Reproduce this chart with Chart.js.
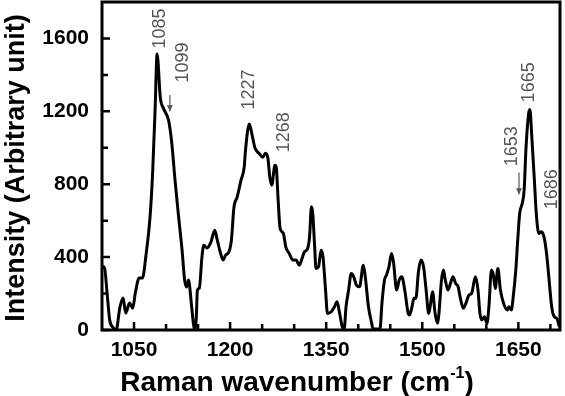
<!DOCTYPE html>
<html>
<head>
<meta charset="utf-8">
<script src="https://cdn.jsdelivr.net/npm/chart.js@4.4.0/dist/chart.umd.min.js"></script>
<style>
  body { margin: 0; background: #fff; }
  #wrap { width: 565px; height: 396px; }
</style>
</head>
<body>
<div id="wrap"><canvas id="raman" width="565" height="396"></canvas></div>
<script>
// Raman spectrum
const wavenumber = [
  1000, 1004, 1008, 1012, 1017, 1022, 1028, 1033, 1037, 1043, 1048, 1052, 1058, 1063, 1069,
  1075, 1079, 1083, 1086, 1091, 1096, 1104, 1109, 1114, 1119, 1125, 1129, 1132, 1135, 1140,
  1143, 1145, 1147, 1149, 1152, 1156, 1159, 1164, 1170, 1176, 1180, 1185, 1189, 1193, 1198,
  1202, 1206, 1211, 1217, 1222, 1224, 1230, 1235, 1239, 1245, 1251, 1255, 1259, 1262, 1265,
  1270, 1272, 1275, 1278, 1283, 1287, 1292, 1298, 1303, 1308, 1313, 1316, 1321, 1324, 1327,
  1329, 1332, 1334, 1338, 1342, 1345, 1349, 1352, 1358, 1363, 1367, 1371, 1375, 1378, 1381,
  1385, 1389, 1393, 1397, 1402, 1408, 1411, 1416, 1421, 1423, 1434, 1437, 1441, 1444, 1448,
  1452, 1455, 1460, 1464, 1468, 1473, 1478, 1480, 1484, 1487, 1490, 1494, 1498, 1502, 1506,
  1510, 1513, 1516, 1520, 1524, 1526, 1530, 1533, 1536, 1540, 1544, 1548, 1552, 1556, 1559,
  1564, 1568, 1573, 1577, 1583, 1587, 1590, 1593, 1597, 1601, 1604, 1608, 1611, 1614, 1618,
  1622, 1627, 1633, 1635, 1639, 1642, 1646, 1649, 1652, 1656, 1659, 1662, 1666, 1668, 1671,
  1675, 1678, 1682, 1686, 1690, 1694, 1698, 1702, 1706, 1710, 1714
];
const intensity = [
  350, 340, 200, 55, 15, 0, 125, 175, 93, 148, 120, 203, 285, 285, 420,
  620, 860, 1222, 1515, 1277, 1215, 1150, 1024, 822, 641, 438, 274, 236, 274, 126,
  27, 0, 55, 219, 230, 400, 465, 450, 482, 548, 493, 422, 384, 411, 427,
  493, 674, 729, 822, 893, 986, 1130, 1058, 997, 970, 948, 970, 942, 838, 795,
  904, 893, 712, 559, 531, 455, 422, 384, 384, 356, 400, 429, 447, 511, 676,
  639, 456, 338, 347, 438, 402, 219, 91, 100, 128, 155, 91, 18, 5, 128,
  219, 310, 292, 247, 237, 356, 292, 128, 37, 5, 5, 146, 274, 301, 347,
  420, 374, 219, 274, 292, 210, 91, 82, 128, 174, 174, 320, 384, 347, 219,
  91, 146, 210, 91, 37, 91, 274, 329, 274, 219, 256, 292, 256, 237, 183,
  119, 146, 192, 201, 292, 219, 91, 55, 73, 37, 128, 329, 301, 228, 338,
  219, 146, 110, 128, 110, 183, 329, 493, 639, 694, 767, 1004, 1187, 1210, 1059,
  822, 639, 530, 539, 511, 420, 274, 128, 73, 64, 18
];

const xMajorTicks = [1050, 1200, 1350, 1500, 1650];
const xMinorTicks = [1100, 1150, 1250, 1300, 1400, 1450, 1550, 1600, 1700];
const yMajorTicks = [0, 400, 800, 1200, 1600];
const yMinorTicks = [200, 600, 1000, 1400];

const peakLabels = ['1085', '1099', '1227', '1268', '1665', '1653', '1686'];
// where each label sits, in data units
const peakLabelPos = [
  [1091, 1655], [1126, 1468], [1229, 1320], [1284, 1085],
  [1667, 1359], [1640, 1008], [1703, 773]
];
const arrows = [[1106, 1290, 1200], [1651, 865, 745]];

const FONT = '"Liberation Sans", Arial, sans-serif';

const frame = {
  id: 'frame',
  afterDraw(chart) {
    const { ctx, chartArea: a, scales: { x, y } } = chart;
    ctx.save();
    ctx.strokeStyle = '#000';
    ctx.lineWidth = 2.5;
    ctx.beginPath();
    const tick = (px, len, horiz) => {
      if (horiz) { ctx.moveTo(px, a.bottom); ctx.lineTo(px, a.bottom - len); }
      else { ctx.moveTo(a.left, px); ctx.lineTo(a.left + len, px); }
    };
    xMajorTicks.forEach(v => tick(x.getPixelForValue(v), 8, true));
    xMinorTicks.forEach(v => tick(x.getPixelForValue(v), 6, true));
    yMajorTicks.forEach(v => tick(y.getPixelForValue(v), 8, false));
    yMinorTicks.forEach(v => tick(y.getPixelForValue(v), 6, false));
    ctx.stroke();

    ctx.lineWidth = 3;
    ctx.strokeRect(a.left, a.top, a.right - a.left, a.bottom - a.top);

    // peak labels
    ctx.fillStyle = '#555';
    ctx.font = '18px ' + FONT;
    ctx.textAlign = 'center';
    ctx.textBaseline = 'middle';
    peakLabels.forEach((t, i) => {
      const [vx, vy] = peakLabelPos[i];
      ctx.save();
      ctx.translate(x.getPixelForValue(vx), y.getPixelForValue(vy));
      ctx.rotate(-Math.PI / 2);
      ctx.fillText(t, 0, 0);
      ctx.restore();
    });

    // little arrows
    ctx.strokeStyle = '#555';
    ctx.lineWidth = 1.2;
    arrows.forEach(([vx, y0, y1]) => {
      const px = x.getPixelForValue(vx);
      const top = y.getPixelForValue(y0), bot = y.getPixelForValue(y1);
      ctx.beginPath();
      ctx.moveTo(px, top); ctx.lineTo(px, bot);
      ctx.stroke();
      ctx.beginPath();
      ctx.moveTo(px - 3, bot - 6); ctx.lineTo(px, bot); ctx.lineTo(px + 3, bot - 6);
      ctx.closePath();
      ctx.fill();
    });

    // axis titles
    ctx.fillStyle = '#000';
    ctx.font = 'bold 27px ' + FONT;
    ctx.save();
    ctx.translate(17, 168);
    ctx.rotate(-Math.PI / 2);
    ctx.fillText('Intensity (Arbitrary unit)', 0, 0);
    ctx.restore();

    ctx.textAlign = 'left';
    ctx.textBaseline = 'alphabetic';
    const main = 'Raman wavenumber (cm';
    ctx.font = 'bold 28px ' + FONT;
    const w1 = ctx.measureText(main).width;
    ctx.font = 'bold 16px ' + FONT;
    const w2 = ctx.measureText('-1').width;
    ctx.font = 'bold 28px ' + FONT;
    const w3 = ctx.measureText(')').width;
    let sx = 297 - (w1 + w2 + w3) / 2;
    const base = 391;
    ctx.fillText(main, sx, base);
    ctx.font = 'bold 16px ' + FONT;
    ctx.fillText('-1', sx + w1, base - 13);
    ctx.font = 'bold 28px ' + FONT;
    ctx.fillText(')', sx + w1 + w2, base);
    ctx.restore();
  }
};

const plain = v => String(v);

new Chart(document.getElementById('raman'), {
  type: 'line',
  data: {
    datasets: [{
      data: wavenumber.map((w, i) => ({ x: w, y: intensity[i] })),
      borderColor: '#000',
      borderWidth: 3,
      pointRadius: 0,
      cubicInterpolationMode: 'monotone',
      fill: false
    }]
  },
  options: {
    responsive: false,
    animation: false,
    layout: { padding: { top: 2, right: 5, left: 0, bottom: 0 } },
    plugins: { legend: { display: false }, tooltip: { enabled: false } },
    scales: {
      x: {
        type: 'linear',
        min: 1000,
        max: 1715,
        afterBuildTicks: s => { s.ticks = xMajorTicks.map(v => ({ value: v })); },
        afterFit: s => { s.height = 66; s.paddingLeft = 0; s.paddingRight = 0; },
        grid: { display: false, drawTicks: false },
        border: { display: false },
        ticks: {
          autoSkip: false, maxRotation: 0, padding: 8, color: '#000', callback: plain,
          font: { family: FONT, size: 21, weight: 'bold' }
        }
      },
      y: {
        min: 0,
        max: 1800,
        afterBuildTicks: s => { s.ticks = yMajorTicks.map(v => ({ value: v })); },
        afterFit: s => { s.width = 102; s.paddingTop = 0; s.paddingBottom = 0; },
        grid: { display: false, drawTicks: false },
        border: { display: false },
        ticks: {
          padding: 13, color: '#000', callback: plain,
          font: { family: FONT, size: 21, weight: 'bold' }
        }
      }
    }
  },
  plugins: [frame]
});
</script>
</body>
</html>
